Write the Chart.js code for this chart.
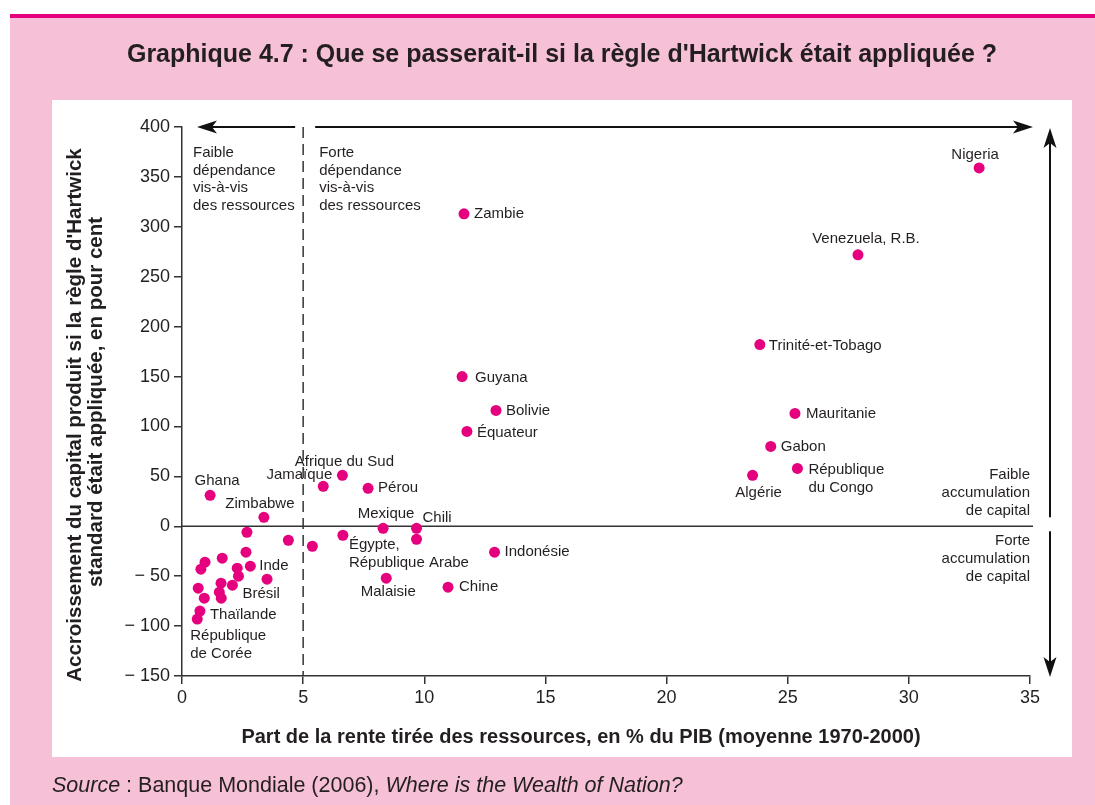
<!DOCTYPE html>
<html><head><meta charset="utf-8">
<script src="https://cdn.jsdelivr.net/npm/chart.js@4.4.1/dist/chart.umd.min.js"></script>
<style>html,body{margin:0;padding:0;background:#fff}#wrap{width:1095px;height:805px;position:relative}canvas{display:block}</style>
</head><body><div id="wrap"><canvas id="c" width="1095" height="805"></canvas></div>
<script>
// ---- DATA ----
const countries = [
  'Nigeria','Venezuela, R.B.','Trinité-et-Tobago','Mauritanie','Gabon','République du Congo','Algérie',
  'Zambie','Guyana','Bolivie','Équateur','Indonésie','Chine','Malaisie','Chili','','Mexique',
  'Égypte, République Arabe','Pérou','Afrique du Sud','Jamaïque','Zimbabwe','Ghana','Inde','Brésil',
  'Thaïlande','République de Corée',
  '','','','','','','','','','','','','','',''
];
const rentShare = [
  32.9, 27.9, 23.85, 25.3, 24.3, 25.4, 23.55,
  11.64, 11.56, 12.96, 11.76, 12.9, 10.98, 8.43, 9.68, 9.68, 8.3,
  6.64, 7.68, 6.62, 5.83, 3.38, 1.16, 2.82, 2.08,
  0.74, 0.63,
  5.38, 4.39, 2.68, 2.64, 1.66, 0.95, 0.78, 2.28, 2.33, 3.51, 1.61, 0.67, 1.54, 1.62, 0.92
];
const capitalGain = [
  359, 272, 182, 113, 80, 58, 51,
  313, 150, 116, 95, -26, -61, -52, -2, -13, -2,
  -9, 38, 51, 40, 9, 31, -40, -59,
  -85, -93,
  -20, -14, -6, -26, -32, -36, -43, -42, -50, -53, -57, -62, -66, -72, -72
];
const xTicks = [0, 5, 10, 15, 20, 25, 30, 35];
const yTicks = [-150, -100, -50, 0, 50, 100, 150, 200, 250, 300, 350, 400];
const dependenceThreshold = 5;

const titleText = "Graphique 4.7 : Que se passerait-il si la règle d'Hartwick était appliquée ?";
const xTitle = "Part de la rente tirée des ressources, en % du PIB (moyenne 1970-2000)";
const yTitle = ["Accroissement du capital produit si la règle d'Hartwick", "standard était appliquée, en pour cent"];
const leftNote = ["Faible", "dépendance", "vis-à-vis", "des ressources"];
const rightNote = ["Forte", "dépendance", "vis-à-vis", "des ressources"];
const upNote = ["Faible", "accumulation", "de capital"];
const downNote = ["Forte", "accumulation", "de capital"];

// ---- label placement (pixels relative to point) ----
const labelPlacement = {
  'Nigeria': {dx: -4, dy: -13, align: 'center'},
  'Venezuela, R.B.': {dx: 8, dy: -16, align: 'center'},
  'Trinité-et-Tobago': {dx: 9, dy: 1, align: 'left'},
  'Mauritanie': {dx: 11, dy: 0, align: 'left'},
  'Gabon': {dx: 10, dy: 0, align: 'left'},
  'République du Congo': {dx: 11, dy: 1, align: 'left', lines: ['République', 'du Congo']},
  'Algérie': {dx: 6, dy: 17, align: 'center'},
  'Zambie': {dx: 10, dy: 0, align: 'left'},
  'Guyana': {dx: 13, dy: 1, align: 'left'},
  'Bolivie': {dx: 10, dy: 0, align: 'left'},
  'Équateur': {dx: 10, dy: 1, align: 'left'},
  'Indonésie': {dx: 10, dy: 0, align: 'left'},
  'Chine': {dx: 11, dy: 0, align: 'left'},
  'Malaisie': {dx: 2, dy: 14, align: 'center'},
  'Chili': {dx: 6, dy: -10, align: 'left'},
  'Mexique': {dx: 3, dy: -14, align: 'center'},
  'Égypte, République Arabe': {dx: 6, dy: 10, align: 'left', lines: ['Égypte,', 'République Arabe']},
  'Pérou': {dx: 10, dy: 0, align: 'left'},
  'Afrique du Sud': {dx: 2, dy: -14, align: 'center'},
  'Jamaïque': {dx: 9, dy: -11, align: 'right'},
  'Zimbabwe': {dx: -4, dy: -13, align: 'center'},
  'Ghana': {dx: 7, dy: -14, align: 'center'},
  'Inde': {dx: 9, dy: 0, align: 'left'},
  'Brésil': {dx: 10, dy: 9, align: 'left'},
  'Thaïlande': {dx: 10, dy: 4, align: 'left'},
  'République de Corée': {dx: -7, dy: 17, align: 'left', lines: ['République', 'de Corée']}
};

const TXT = '#231F20';
const FONT = '"Liberation Sans", Arial, Helvetica, sans-serif';
const MAGENTA = '#E5007E';

function arrow(ctx, x1, y1, x2, y2) {
  const ang = Math.atan2(y2 - y1, x2 - x1);
  const L = 20, W = 6.5, N = 5;
  ctx.beginPath();
  ctx.moveTo(x1, y1);
  ctx.lineTo(x2 - Math.cos(ang) * (L - N), y2 - Math.sin(ang) * (L - N));
  ctx.stroke();
  ctx.save();
  ctx.translate(x2, y2);
  ctx.rotate(ang);
  ctx.beginPath();
  ctx.moveTo(0, 0);
  ctx.lineTo(-L, -W);
  ctx.lineTo(-L + N, 0);
  ctx.lineTo(-L, W);
  ctx.closePath();
  ctx.fill();
  ctx.restore();
}

const decor = {
  id: 'decor',
  beforeDraw(chart) {
    const ctx = chart.ctx;
    ctx.save();
    ctx.fillStyle = '#fff';
    ctx.fillRect(0, 0, 1095, 805);
    ctx.fillStyle = '#F6C0D7';
    ctx.fillRect(10, 17, 1085, 788);
    ctx.fillStyle = MAGENTA;
    ctx.fillRect(10, 14, 1085, 4);
    ctx.fillStyle = '#fff';
    ctx.fillRect(52, 100, 1020, 657);
    // title
    ctx.fillStyle = TXT;
    ctx.textAlign = 'center';
    ctx.textBaseline = 'middle';
    ctx.font = 'bold 25px ' + FONT;
    ctx.fillText(titleText, 562, 55);
    // source
    ctx.textAlign = 'left';
    ctx.font = 'italic 21.5px ' + FONT;
    let x = 52;
    ctx.fillText('Source', x, 786);
    x += ctx.measureText('Source').width;
    ctx.font = '21.5px ' + FONT;
    const mid = ' : Banque Mondiale (2006), ';
    ctx.fillText(mid, x, 786);
    x += ctx.measureText(mid).width;
    ctx.font = 'italic 21.5px ' + FONT;
    ctx.fillText('Where is the Wealth of Nation?', x, 786);
    ctx.restore();
  },
  beforeDatasetsDraw(chart) {
    const ctx = chart.ctx, xs = chart.scales.x, ys = chart.scales.y, ca = chart.chartArea;
    ctx.save();
    ctx.strokeStyle = '#333';
    ctx.lineWidth = 1.5;
    const y0 = ys.getPixelForValue(0);
    ctx.beginPath();
    ctx.moveTo(ca.left, y0);
    ctx.lineTo(ca.right + 3, y0);
    ctx.stroke();
    const x5 = xs.getPixelForValue(dependenceThreshold);
    ctx.setLineDash([11, 6]);
    ctx.beginPath();
    ctx.moveTo(x5, ca.top);
    ctx.lineTo(x5, ca.bottom);
    ctx.stroke();
    ctx.setLineDash([]);
    ctx.restore();
  },
  afterDraw(chart) {
    const ctx = chart.ctx, xs = chart.scales.x, ys = chart.scales.y, ca = chart.chartArea;
    ctx.save();
    ctx.strokeStyle = '#111';
    ctx.fillStyle = '#111';
    ctx.lineWidth = 2;
    const yTop = ys.getPixelForValue(400);
    const x5 = xs.getPixelForValue(dependenceThreshold);
    const y0 = ys.getPixelForValue(0);
    arrow(ctx, x5 - 8, yTop, ca.left + 15, yTop);
    arrow(ctx, x5 + 12, yTop, ca.right + 3, yTop);
    const xa = ca.right + 20;
    arrow(ctx, xa, y0 - 9, xa, yTop + 1);
    arrow(ctx, xa, y0 + 5, xa, ca.bottom + 1);

    ctx.fillStyle = TXT;
    ctx.font = '15px ' + FONT;
    ctx.textBaseline = 'middle';
    ctx.textAlign = 'left';
    leftNote.forEach((t, i) => ctx.fillText(t, ca.left + 11, yTop + 26 + i * 17.6));
    rightNote.forEach((t, i) => ctx.fillText(t, x5 + 16, yTop + 26 + i * 17.6));
    ctx.textAlign = 'right';
    upNote.forEach((t, i) => ctx.fillText(t, ca.right, y0 - 51 + i * 18));
    downNote.forEach((t, i) => ctx.fillText(t, ca.right, y0 + 15 + i * 18));

    const meta = chart.getDatasetMeta(0);
    meta.data.forEach((pt, i) => {
      const name = countries[i];
      if (!name || !labelPlacement[name]) return;
      const p = labelPlacement[name];
      ctx.textAlign = p.align;
      const lines = p.lines || [name];
      lines.forEach((t, j) => ctx.fillText(t, pt.x + p.dx, pt.y + p.dy + j * 18));
    });

    ctx.font = 'bold 20px ' + FONT;
    ctx.textAlign = 'center';
    ctx.fillText(xTitle, 581, 737);
    ctx.font = 'bold 20.5px ' + FONT;
    ctx.save();
    ctx.translate(75, 0);
    ctx.rotate(-Math.PI / 2);
    ctx.fillText(yTitle[0], -415, 0);
    ctx.fillText(yTitle[1], -402, 21);
    ctx.restore();
    ctx.restore();
  }
};

const points = rentShare.map((v, i) => ({x: v, y: capitalGain[i]}));

new Chart(document.getElementById('c'), {
  type: 'scatter',
  data: {
    datasets: [{
      data: points,
      backgroundColor: MAGENTA,
      borderColor: MAGENTA,
      borderWidth: 0,
      pointRadius: 5.5,
      pointHoverRadius: 5.5
    }]
  },
  options: {
    responsive: false,
    devicePixelRatio: 1,
    animation: false,
    events: [],
    layout: {padding: {left: 52, top: 127, right: 65, bottom: 49}},
    plugins: {legend: {display: false}, tooltip: {enabled: false}, title: {display: false}},
    scales: {
      x: {
        type: 'linear', min: xTicks[0], max: xTicks[xTicks.length - 1],
        afterBuildTicks: s => { s.ticks = xTicks.map(v => ({value: v})); },
        afterFit: s => { s.height = 80; },
        ticks: {color: TXT, font: {family: FONT, size: 18}, padding: 3, maxRotation: 0, autoSkip: false},
        grid: {drawOnChartArea: false, drawTicks: true, tickLength: 8, color: '#333', lineWidth: 1.5},
        border: {display: true, color: '#333', width: 1.5}
      },
      y: {
        type: 'linear', min: yTicks[0], max: yTicks[yTicks.length - 1],
        afterBuildTicks: s => { s.ticks = yTicks.map(v => ({value: v})); },
        afterFit: s => { s.width = 130; },
        ticks: {
          color: TXT, font: {family: FONT, size: 18}, padding: 4, autoSkip: false,
          callback: v => v < 0 ? '\u2212 ' + Math.abs(v) : String(v)
        },
        grid: {drawOnChartArea: false, drawTicks: true, tickLength: 8, color: '#333', lineWidth: 1.5},
        border: {display: true, color: '#333', width: 1.5}
      }
    }
  },
  plugins: [decor]
});
</script>
</body></html>
